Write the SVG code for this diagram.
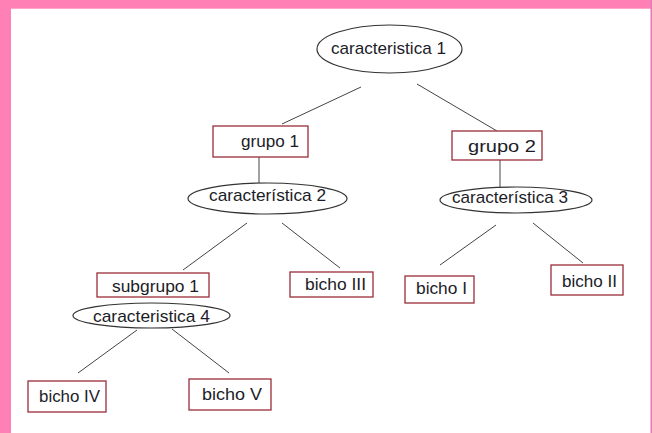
<svg xmlns="http://www.w3.org/2000/svg" width="652" height="433" viewBox="0 0 652 433">
<style>
.box{fill:#fff;stroke:#9b2d3a;stroke-width:1.3}
.ell{fill:#fff;stroke:#333;stroke-width:1.2}
.t{font-family:"Liberation Sans",Arial,sans-serif;font-size:17px;fill:#1c1c28}
.ln{stroke:#444;stroke-width:1;fill:none}
</style>
<rect x="0" y="0" width="652" height="433" fill="#fff"/>
<rect x="0" y="0" width="652" height="8.7" fill="#ff80b4"/>
<rect x="0" y="0" width="11" height="433" fill="#ff80b4"/>
<rect x="650.5" y="0" width="1.5" height="433" fill="#e07ab8"/>
<g id="connectors">
<line class="ln" x1="361" y1="87" x2="282" y2="124"/>
<line class="ln" x1="417" y1="84" x2="497" y2="131"/>
<line class="ln" x1="259" y1="157" x2="259" y2="183"/>
<line class="ln" x1="500" y1="160" x2="500" y2="187"/>
<line class="ln" x1="247" y1="223" x2="183" y2="270"/>
<line class="ln" x1="282" y1="223" x2="340" y2="268"/>
<line class="ln" x1="496" y1="225" x2="440" y2="265"/>
<line class="ln" x1="533" y1="223" x2="583" y2="263"/>
<line class="ln" x1="137" y1="330" x2="78" y2="373"/>
<line class="ln" x1="172" y1="329" x2="229" y2="373"/>
</g>
<g id="c1"><ellipse class="ell" cx="389.5" cy="49" rx="72.5" ry="24"/><text class="t" x="331" y="54" textLength="115" lengthAdjust="spacingAndGlyphs">caracteristica 1</text></g>
<g id="g1"><rect class="box" x="213" y="126" width="95" height="31"/><text class="t" x="241" y="147" textLength="58" lengthAdjust="spacingAndGlyphs">grupo 1</text></g>
<g id="g2"><rect class="box" x="452" y="131" width="90" height="29"/><text class="t" x="468" y="152" textLength="68" lengthAdjust="spacingAndGlyphs">grupo 2</text></g>
<g id="c2"><ellipse class="ell" cx="267.5" cy="198.5" rx="79.5" ry="15.5"/><text class="t" x="209" y="201" textLength="117" lengthAdjust="spacingAndGlyphs">característica 2</text></g>
<g id="c3"><ellipse class="ell" cx="516" cy="200" rx="76" ry="13"/><text class="t" x="452" y="203" textLength="116" lengthAdjust="spacingAndGlyphs">característica 3</text></g>
<g id="sg1"><rect class="box" x="97" y="273" width="112" height="24"/><text class="t" x="112" y="292" textLength="87" lengthAdjust="spacingAndGlyphs">subgrupo 1</text></g>
<g id="b3"><rect class="box" x="290" y="272" width="83" height="25"/><text class="t" x="305" y="290" textLength="61" lengthAdjust="spacingAndGlyphs">bicho III</text></g>
<g id="b1"><rect class="box" x="405" y="276" width="69" height="27"/><text class="t" x="416" y="294" textLength="51" lengthAdjust="spacingAndGlyphs">bicho I</text></g>
<g id="b2"><rect class="box" x="551" y="265" width="72" height="30"/><text class="t" x="562" y="287" textLength="55" lengthAdjust="spacingAndGlyphs">bicho II</text></g>
<g id="c4"><ellipse class="ell" cx="151.5" cy="315.5" rx="78.5" ry="12.5"/><text class="t" x="93" y="322" textLength="117" lengthAdjust="spacingAndGlyphs">caracteristica 4</text></g>
<g id="b4"><rect class="box" x="28" y="381" width="78" height="31"/><text class="t" x="39" y="402" textLength="61" lengthAdjust="spacingAndGlyphs">bicho IV</text></g>
<g id="b5"><rect class="box" x="189" y="379" width="82" height="31"/><text class="t" x="202" y="400" textLength="60" lengthAdjust="spacingAndGlyphs">bicho V</text></g>
</svg>
